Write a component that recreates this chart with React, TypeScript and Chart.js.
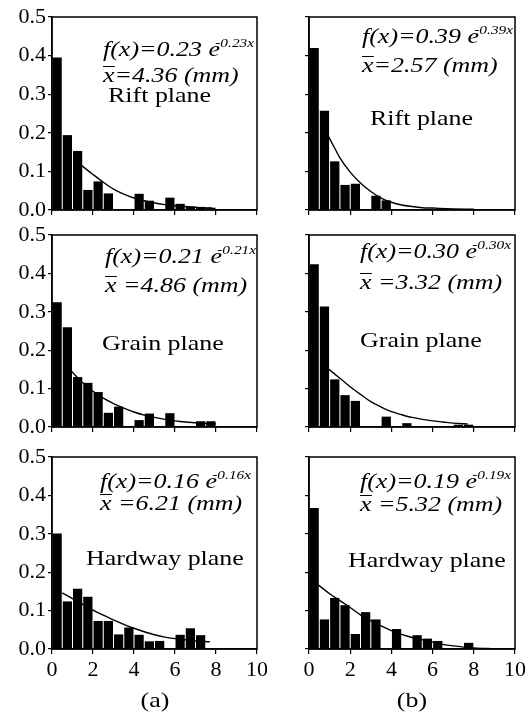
import React, { useEffect, useRef } from "react";
import { Chart, registerables } from "chart.js";

Chart.register(...registerables);

// ---------- data ----------
const BIN_X = [0.25, 0.75, 1.25, 1.75, 2.25, 2.75, 3.25, 3.75, 4.25, 4.75, 5.25, 5.75, 6.25, 6.75, 7.25, 7.75];

const RIFT_A = [0.395, 0.194, 0.153, 0.052, 0.074, 0.043, null, null, 0.042, 0.024, null, 0.032, 0.016, 0.009, 0.008, 0.006];
const RIFT_B = [0.42, 0.257, 0.126, 0.065, 0.068, null, 0.037, 0.025, null, null, null, null, null, null, null, null];
const GRAIN_A = [0.325, 0.26, 0.13, 0.115, 0.091, 0.037, 0.053, null, 0.018, 0.035, null, 0.036, null, null, 0.015, 0.015];
const GRAIN_B = [0.424, 0.314, 0.124, 0.083, 0.068, null, null, 0.027, null, 0.01, null, null, null, null, 0.006, 0.006];
const HARD_A = [0.301, 0.124, 0.157, 0.136, 0.073, 0.073, 0.038, 0.056, 0.037, 0.02, 0.021, null, 0.037, 0.054, 0.036, null];
const HARD_B = [0.367, 0.077, 0.133, 0.114, 0.039, 0.096, 0.077, null, 0.052, null, 0.036, 0.027, 0.021, null, null, 0.016];

const CURVE_RIFT_A_X = [1.45, 2, 2.5, 3, 3.5, 4, 4.5, 5, 5.5, 6, 6.5, 7, 7.5, 7.8];
const CURVE_RIFT_A_Y = [0.115, 0.092, 0.072, 0.054, 0.041, 0.031, 0.024, 0.018, 0.014, 0.011, 0.009, 0.007, 0.005, 0.005];
const CURVE_RIFT_B_X = [0.95, 1.25, 1.5, 2, 2.5, 3, 3.5, 4, 4.5, 5, 5.5, 6, 7, 8];
const CURVE_RIFT_B_Y = [0.19, 0.16, 0.135, 0.098, 0.07, 0.048, 0.031, 0.02, 0.013, 0.009, 0.006, 0.005, 0.003, 0.002];
const CURVE_GRAIN_A_X = [0.95, 1.5, 2, 2.5, 3, 3.5, 4, 4.5, 5, 5.5, 6, 6.5, 7, 7.5, 8];
const CURVE_GRAIN_A_Y = [0.145, 0.115, 0.093, 0.075, 0.061, 0.049, 0.039, 0.031, 0.025, 0.02, 0.016, 0.013, 0.011, 0.009, 0.008];
const CURVE_GRAIN_B_X = [0.97, 1.5, 2, 2.5, 3, 3.5, 4, 4.5, 5, 5.5, 6, 6.5, 7, 7.7];
const CURVE_GRAIN_B_Y = [0.15, 0.127, 0.105, 0.085, 0.066, 0.052, 0.04, 0.032, 0.025, 0.02, 0.016, 0.013, 0.01, 0.008];
const CURVE_HARD_A_X = [0.5, 1, 1.5, 2, 2.5, 3, 3.5, 4, 4.5, 5, 5.5, 6, 6.5, 7, 7.7];
const CURVE_HARD_A_Y = [0.146, 0.131, 0.116, 0.101, 0.088, 0.076, 0.064, 0.054, 0.045, 0.037, 0.031, 0.027, 0.024, 0.021, 0.019];
const CURVE_HARD_B_X = [0.45, 1, 1.5, 2, 2.5, 3, 3.5, 4, 4.5, 5, 5.5, 6, 6.5, 7, 7.5, 8, 9];
const CURVE_HARD_B_Y = [0.167, 0.144, 0.126, 0.108, 0.089, 0.074, 0.06, 0.048, 0.038, 0.03, 0.024, 0.018, 0.012, 0.008, 0.005, 0.003, 0.001];

const PLANE_NAMES = ["Rift plane", "Rift plane", "Grain plane", "Grain plane", "Hardway plane", "Hardway plane"];
const COEFS = ["0.23", "0.39", "0.21", "0.30", "0.16", "0.19"];
const EXPONENTS = ["-0.23x", "-0.39x", "-0.21x", "-0.30x", "-0.16x", "-0.19x"];
const MEANS = ["=4.36 (mm)", "=2.57 (mm)", " =4.86 (mm)", " =3.32 (mm)", " =6.21 (mm)", " =5.32 (mm)"];
const PANEL_CAPTIONS = ["(a)", "(b)"];

const X_MIN = 0;
const X_MAX = 10;
const X_STEP = 2;
const Y_MIN = 0;
const Y_MAX = 0.5;
const Y_STEP = 0.1;

const PANELS = [
  { bars: RIFT_A, cx: CURVE_RIFT_A_X, cy: CURVE_RIFT_A_Y },
  { bars: RIFT_B, cx: CURVE_RIFT_B_X, cy: CURVE_RIFT_B_Y },
  { bars: GRAIN_A, cx: CURVE_GRAIN_A_X, cy: CURVE_GRAIN_A_Y },
  { bars: GRAIN_B, cx: CURVE_GRAIN_B_X, cy: CURVE_GRAIN_B_Y },
  { bars: HARD_A, cx: CURVE_HARD_A_X, cy: CURVE_HARD_A_Y },
  { bars: HARD_B, cx: CURVE_HARD_B_X, cy: CURVE_HARD_B_Y },
];

// ---------- layout ----------
const W = 529;
const H = 717;
const COL_LEFT = [52, 309];
const COL_RIGHT = [257, 515];
const ROW_TOP = [17, 235, 457];
const ROW_BOTTOM = [210, 427, 649];
const FONT = "'Liberation Serif', 'Times New Roman', serif";

// text placement per panel: [formula left, formula top, mean top, plane left, plane top]
const TEXT_POS = [
  [103, 38, 64, 108, 84],
  [362, 25, 54, 370, 107],
  [105, 245, 274, 102, 332],
  [360, 240, 271, 360, 329],
  [100, 470, 492, 86, 547],
  [360, 470, 493, 348, 549],
];

const framePlugin = {
  id: "frame",
  afterDraw(chart: any) {
    const { ctx, chartArea: a } = chart;
    ctx.save();
    ctx.strokeStyle = "#000";
    ctx.lineWidth = 1.5;
    ctx.strokeRect(a.left, a.top, a.right - a.left, a.bottom - a.top);
    ctx.restore();
  },
};

function PanelChart({ index }: { index: number }) {
  const ref = useRef<HTMLCanvasElement | null>(null);
  useEffect(() => {
    const p = PANELS[index];
    const col = index % 2;
    const row = Math.floor(index / 2);
    const isBottom = row === 2;
    const yAxisW = col === 0 ? 45 : 6;
    const xAxisH = isBottom ? 35 : 5;
    const chart = new Chart(ref.current as HTMLCanvasElement, {
      type: "bar",
      data: {
        datasets: [
          {
            type: "bar",
            data: BIN_X.map((x, i) => ({ x, y: p.bars[i] })),
            backgroundColor: "#000",
            borderWidth: 0,
            barPercentage: 0.9,
            categoryPercentage: 1,
            order: 0,
          } as any,
          {
            type: "line",
            data: p.cx.map((x, i) => ({ x, y: p.cy[i] })),
            borderColor: "#000",
            borderWidth: 1.4,
            pointRadius: 0,
            cubicInterpolationMode: "monotone",
            fill: false,
            order: 1,
          } as any,
        ],
      },
      options: {
        responsive: false,
        animation: false,
        events: [],
        layout: {
          padding: {
            left: COL_LEFT[col] - yAxisW,
            right: W - COL_RIGHT[col],
            top: ROW_TOP[row],
            bottom: H - ROW_BOTTOM[row] - xAxisH,
          },
        },
        plugins: { legend: { display: false }, tooltip: { enabled: false } },
        scales: {
          x: {
            type: "linear",
            min: X_MIN,
            max: X_MAX,
            offset: false,
            grid: { offset: false, drawOnChartArea: false, drawTicks: true, tickLength: 5, color: "#000", lineWidth: 1.2 },
            border: { display: true, color: "#000", width: 1.5 },
            ticks: {
              display: isBottom,
              stepSize: X_STEP,
              autoSkip: false,
              maxRotation: 0,
              padding: 3,
              color: "#000",
              font: { family: FONT, size: 22 },
            },
            afterFit: (s: any) => {
              s.height = xAxisH;
            },
          },
          y: {
            type: "linear",
            min: Y_MIN,
            max: Y_MAX,
            grid: { drawOnChartArea: false, drawTicks: true, tickLength: 4, color: "#000", lineWidth: 1.2 },
            border: { display: true, color: "#000", width: 1.5 },
            ticks: {
              display: col === 0,
              stepSize: Y_STEP,
              padding: 2,
              color: "#000",
              font: { family: FONT, size: 22 },
              callback: (v: any) => Number(v).toFixed(1),
            },
            afterFit: (s: any) => {
              s.width = yAxisW;
            },
          },
        },
      } as any,
      plugins: [framePlugin],
    });
    return () => chart.destroy();
  }, [index]);
  return (
    <canvas
      ref={ref}
      width={W}
      height={H}
      style={{ position: "absolute", left: 0, top: 0, width: W, height: H }}
    />
  );
}

const textBase: React.CSSProperties = {
  position: "absolute",
  fontFamily: FONT,
  fontSize: 22,
  lineHeight: "22px",
  height: 22,
  whiteSpace: "pre",
  color: "#000",
  transform: "scaleX(1.18)",
  transformOrigin: "left center",
};

export default function App() {
  return (
    <div style={{ position: "absolute", left: 0, top: 0, width: W, height: H, background: "#fff", overflow: "hidden" }}>
      {PANELS.map((_, i) => (
        <PanelChart key={i} index={i} />
      ))}
      {PANELS.map((_, i) => {
        const [fl, ft, mt, pl, pt] = TEXT_POS[i];
        return (
          <React.Fragment key={"t" + i}>
            <div style={{ ...textBase, left: fl, top: ft, fontStyle: "italic" }}>
              {"f(x)=" + COEFS[i] + " e"}
              <span
                style={{
                  fontSize: 13,
                  lineHeight: "0px",
                  position: "relative",
                  top: -9,
                  marginLeft: -4,
                }}
              >
                {EXPONENTS[i]}
              </span>
            </div>
            <div style={{ ...textBase, left: fl, top: mt, fontStyle: "italic" }}>
              <span
                style={{
                  display: "inline-block",
                  borderTop: "1.5px solid #000",
                  lineHeight: "15px",
                }}
              >
                x
              </span>
              {MEANS[i]}
            </div>
            <div style={{ ...textBase, left: pl, top: pt }}>{PLANE_NAMES[i]}</div>
          </React.Fragment>
        );
      })}
      {PANEL_CAPTIONS.map((c, i) => (
        <div
          key={c}
          style={{
            ...textBase,
            left: (COL_LEFT[i] + COL_RIGHT[i]) / 2,
            top: 689,
            transform: "translateX(-50%) scaleX(1.18)",
            transformOrigin: "center center",
          }}
        >
          {c}
        </div>
      ))}
    </div>
  );
}
